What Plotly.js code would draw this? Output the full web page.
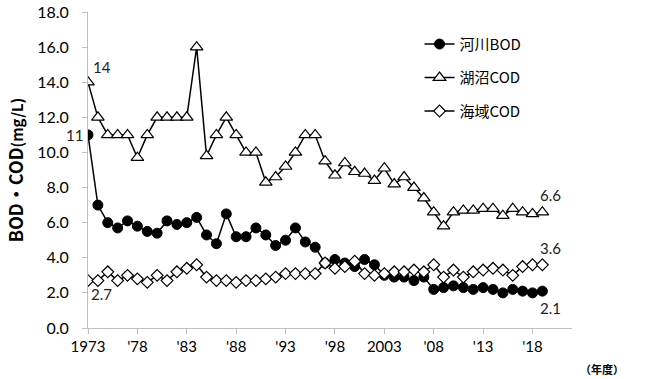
<!DOCTYPE html>
<html>
<head>
<meta charset="utf-8">
<script src="https://cdn.plot.ly/plotly-3.0.1.min.js"></script>
<style>html,body{margin:0;padding:0;background:#fff;}#chart{width:650px;height:379px;}</style>
</head>
<body>
<div id="chart"></div>
<script>
const years = [];
for (let y = 1973; y <= 2019; y++) years.push(y);

const riverBOD = [11, 7.0, 6.0, 5.7, 6.1, 5.8, 5.5, 5.4, 6.1, 5.9, 6.0, 6.3, 5.3, 4.8, 6.5, 5.2, 5.2, 5.7,
  5.3, 4.7, 5.0, 5.7, 4.9, 4.6, 3.7, 3.9, 3.7, 3.5, 3.9, 3.6, 3.0, 2.9, 2.9, 2.7, 2.9, 2.2,
  2.3, 2.4, 2.3, 2.2, 2.3, 2.2, 2.0, 2.2, 2.1, 2.0, 2.1];
const lakeCOD = [14, 12, 11, 11, 11, 9.7, 11, 12, 12, 12, 12, 16, 9.8, 11, 12, 11, 10, 10,
  8.3, 8.6, 9.2, 10, 11, 11, 9.5, 8.7, 9.4, 8.9, 8.8, 8.4, 9.1, 8.2, 8.6, 8.0, 7.4, 6.6,
  5.8, 6.6, 6.7, 6.7, 6.8, 6.8, 6.4, 6.8, 6.6, 6.5, 6.6];
const seaCOD = [2.7, 2.7, 3.2, 2.7, 3.0, 2.8, 2.6, 3.0, 2.7, 3.2, 3.4, 3.6, 2.9, 2.7, 2.7, 2.6, 2.7, 2.7,
  2.8, 2.9, 3.1, 3.1, 3.1, 3.1, 3.7, 3.4, 3.5, 3.8, 3.1, 3.0, 3.1, 3.2, 3.2, 3.3, 3.2, 3.6,
  2.9, 3.3, 2.9, 3.2, 3.3, 3.4, 3.3, 3.0, 3.5, 3.6, 3.6];

const tickVals = [1973, 1978, 1983, 1988, 1993, 1998, 2003, 2008, 2013, 2018];
const tickText = ["1973", "'78", "'83", "'88", "'93", "'98", "2003", "'08", "'13", "'18"];
const seriesNames = ["河川BOD", "湖沼COD", "海域COD"];
const yTitle = "<b>BOD・COD</b><b><span style='font-size:15px'>(mg/L)</span></b>";
const xUnit = "<b>（年度）</b>";

const numFont = "Lato, 'Open Sans', sans-serif";
const cjkFont = "'Noto Sans CJK JP', sans-serif";

const lineStyle = {color: '#000', width: 1.5};
const traces = [
  {x: years, y: riverBOD, name: seriesNames[0], mode: 'lines+markers', legendgroup: 'a',
   line: lineStyle, marker: {symbol: 'circle', size: 10, color: '#000', line: {color: '#000', width: 1}}},
  {x: years, y: lakeCOD, name: seriesNames[1], mode: 'lines+markers', legendgroup: 'b',
   line: lineStyle, marker: {symbol: 'triangle-up', size: 11, color: '#fff', line: {color: '#000', width: 1.2}}},
  {x: years, y: seaCOD, name: seriesNames[2], mode: 'lines+markers', legendgroup: 'c',
   line: lineStyle, marker: {symbol: 'diamond', size: 9, color: '#fff', line: {color: '#000', width: 1.2}}}
];

const last = years.length - 1;
const annFont = {family: numFont, size: 15, color: '#222'};
const annotations = [
  {x: years[0], y: lakeCOD[0], text: String(lakeCOD[0]), showarrow: false, xanchor: 'left', yanchor: 'bottom', xshift: 3, yshift: 4, font: annFont},
  {x: years[0], y: riverBOD[0], text: String(riverBOD[0]), showarrow: false, xanchor: 'right', yanchor: 'middle', xshift: -3, font: annFont},
  {x: years[0], y: seaCOD[0], text: seaCOD[0].toFixed(1), showarrow: false, xanchor: 'left', yanchor: 'top', xshift: 1, yshift: -2, font: annFont},
  {x: years[last], y: lakeCOD[last], text: lakeCOD[last].toFixed(1), showarrow: false, xanchor: 'center', yanchor: 'bottom', xshift: 8, yshift: 6, font: annFont},
  {x: years[last], y: seaCOD[last], text: seaCOD[last].toFixed(1), showarrow: false, xanchor: 'center', yanchor: 'bottom', xshift: 8, yshift: 6, font: annFont},
  {x: years[last], y: riverBOD[last], text: riverBOD[last].toFixed(1), showarrow: false, xanchor: 'center', yanchor: 'top', xshift: 8, yshift: -6, font: annFont},
  {xref: 'paper', yref: 'paper', x: 1.062, y: -0.13, text: xUnit, showarrow: false, xanchor: 'center', yanchor: 'middle', font: {family: cjkFont, size: 11, color: '#000'}}
];

const layout = {
  width: 650, height: 379,
  margin: {l: 88, r: 78, t: 12, b: 51},
  paper_bgcolor: '#fff', plot_bgcolor: '#fff',
  showlegend: true,
  legend: {x: 0.685, y: 0.95, xanchor: 'left', yanchor: 'top', traceorder: 'grouped', tracegroupgap: 11,
           font: {family: cjkFont, size: 15, color: '#000'}, bgcolor: 'rgba(0,0,0,0)', itemwidth: 30},
  xaxis: {range: [1973, 2022], tickvals: tickVals, ticktext: tickText, showgrid: false, zeroline: false,
          showline: true, linecolor: '#bfbfbf', linewidth: 1, ticks: 'outside', ticklen: 5, tickcolor: '#bfbfbf',
          tickfont: {family: numFont, size: 15, color: '#000'}},
  yaxis: {range: [0, 18], dtick: 2, tickformat: '.1f', showgrid: false, zeroline: false,
          showline: true, linecolor: '#bfbfbf', linewidth: 1, ticks: 'outside', ticklen: 5, tickcolor: '#bfbfbf',
          ticklabelstandoff: 10,
          tickfont: {family: numFont, size: 16, color: '#000'},
          title: {text: yTitle, font: {family: cjkFont, size: 18, color: '#000'}, standoff: 8}},
  annotations: annotations
};

Plotly.newPlot('chart', traces, layout, {displayModeBar: false, staticPlot: true});
</script>
</body>
</html>
